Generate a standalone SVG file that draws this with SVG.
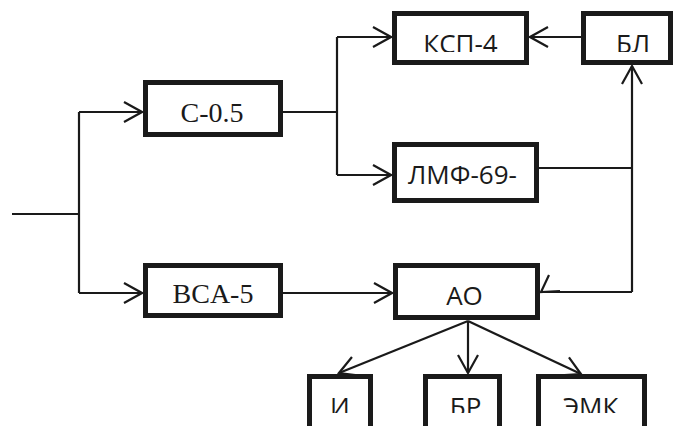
<svg xmlns="http://www.w3.org/2000/svg" width="676" height="426" viewBox="0 0 676 426">
<style>
.box{fill:#fff;stroke:#1a1a1a;stroke-width:5}
.ln{fill:none;stroke:#1a1a1a;stroke-width:2.2}
.sans{font-family:"Open Sans","Liberation Sans",sans-serif;font-size:26px;fill:#1a1a1a;text-anchor:middle}
.serif{font-family:"Liberation Serif","Times New Roman",serif;font-size:28px;fill:#1a1a1a;text-anchor:middle}
</style>
<defs>
<marker id="ah" viewBox="-20 -12 22 24" refX="0" refY="0" markerWidth="22" markerHeight="24" markerUnits="userSpaceOnUse" orient="auto">
<path d="M-18,-10 L0,0 L-18,10" fill="none" stroke="#1a1a1a" stroke-width="2.2"/>
</marker>
<clipPath id="clipTop" clipPathUnits="userSpaceOnUse"><rect x="0" y="0" width="676" height="52"/></clipPath>
<clipPath id="clipBot" clipPathUnits="userSpaceOnUse"><rect x="0" y="300" width="676" height="113"/></clipPath>
</defs>
<g id="connectors">
<path class="ln" d="M12,214 H79"/>
<path class="ln" d="M79,112 V293"/>
<path class="ln" d="M79,112 H142" marker-end="url(#ah)"/>
<path class="ln" d="M79,293 H142" marker-end="url(#ah)"/>
<path class="ln" d="M283,112 H337"/>
<path class="ln" d="M337,37 V175"/>
<path class="ln" d="M337,37 H391" marker-end="url(#ah)"/>
<path class="ln" d="M337,175 H391" marker-end="url(#ah)"/>
<path class="ln" d="M283,293 H392" marker-end="url(#ah)"/>
<path class="ln" d="M581,37 H530" marker-end="url(#ah)"/>
<path class="ln" d="M539,168 H632"/>
<path class="ln" d="M632,292 V66" marker-end="url(#ah)"/>
<path class="ln" d="M632,292 H541"/>
<path class="ln" d="M549,275 L541,292 L560,291"/>
<path class="ln" d="M468,321 L339,373" marker-end="url(#ah)"/>
<path class="ln" d="M468,321 V373" marker-end="url(#ah)"/>
<path class="ln" d="M468,321 L581,374" marker-end="url(#ah)"/>
</g>
<g id="n-c05"><rect class="box" x="145.5" y="82.5" width="135" height="52"/><text class="serif" x="212" y="122">C-0.5</text></g>
<g id="n-bca5"><rect class="box" x="145.5" y="265.5" width="135" height="50"/><text class="serif" x="213" y="303">BCA-5</text></g>
<g id="n-ksp4"><rect class="box" x="394.5" y="13.5" width="132" height="49"/><text class="sans" x="460.5" y="53" clip-path="url(#clipTop)">КСП-4</text></g>
<g id="n-bl"><rect class="box" x="583.5" y="13.5" width="87" height="49"/><text class="sans" x="633" y="53" clip-path="url(#clipTop)">БЛ</text></g>
<g id="n-lmf"><rect class="box" x="394.5" y="144.5" width="142" height="56"/><text class="sans" x="462.5" y="184">ЛМФ-69-</text></g>
<g id="n-ao"><rect class="box" x="395.5" y="265.5" width="142" height="52"/><text class="sans" x="464.5" y="305">АО</text></g>
<g id="n-i"><rect class="box" x="309.5" y="376.5" width="61" height="70"/><text class="sans" x="340" y="416" clip-path="url(#clipBot)">И</text></g>
<g id="n-br"><rect class="box" x="425.5" y="376.5" width="74" height="70"/><text class="sans" x="465.5" y="416" clip-path="url(#clipBot)">БР</text></g>
<g id="n-emk"><rect class="box" x="538.5" y="376.5" width="106" height="70"/><text class="sans" x="590.5" y="416" clip-path="url(#clipBot)">ЭМК</text></g>
</svg>
